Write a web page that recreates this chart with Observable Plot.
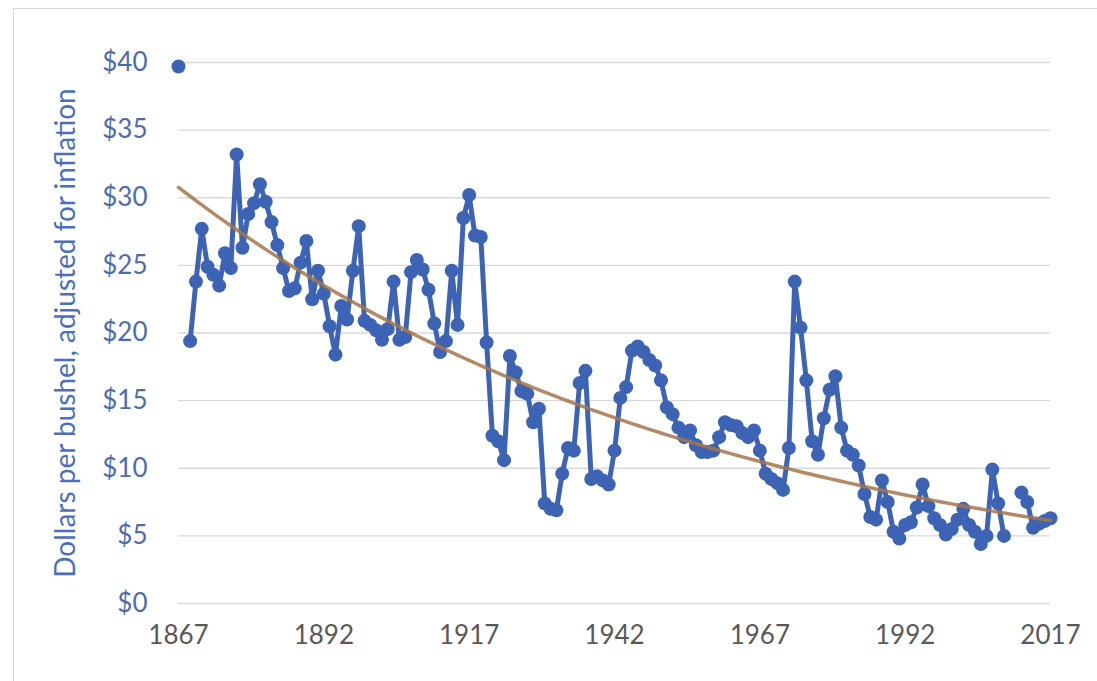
<!DOCTYPE html>
<html><head><meta charset="utf-8">
<script src="https://cdn.jsdelivr.net/npm/d3@7"></script>
<script src="https://cdn.jsdelivr.net/npm/@observablehq/plot@0.6"></script>
<style>
html,body{margin:0;padding:0;background:#fff;width:1097px;height:681px;overflow:hidden;}
#frame{position:absolute;left:13px;top:8px;width:1200px;height:800px;border-left:1.5px solid #d9d9d9;border-top:1.5px solid #d9d9d9;}
#chart{position:absolute;left:0;top:0;}
</style></head><body>
<div id="frame"></div>
<div id="chart"></div>
<script>
// Data: price per bushel (inflation adjusted), one value per year from 1867
const startYear = 1867;
const prices = [
  39.7, null, 19.4,
  23.8, 27.7, 24.9, 24.3, 23.5, 25.9, 24.8, 33.2, 26.3, 28.8,
  29.6, 31.0, 29.7, 28.2, 26.5, 24.8, 23.1, 23.3, 25.2, 26.8,
  22.5, 24.6, 22.9, 20.5, 18.4, 22.0, 21.0, 24.6, 27.9, 20.9,
  20.6, 20.2, 19.5, 20.3, 23.8, 19.5, 19.7, 24.5, 25.4, 24.7,
  23.2, 20.7, 18.6, 19.4, 24.6, 20.6, 28.5, 30.2, 27.2, 27.1,
  19.3, 12.4, 12.0, 10.6, 18.3, 17.1, 15.7, 15.5, 13.4, 14.4,
  7.4, 7.0, 6.9, 9.6, 11.5, 11.3, 16.3, 17.2, 9.2, 9.4,
  9.1, 8.8, 11.3, 15.2, 16.0, 18.7, 19.0, 18.6, 18.0, 17.6,
  16.5, 14.5, 14.0, 13.0, 12.3, 12.8, 11.7, 11.2, 11.2, 11.3,
  12.3, 13.4, 13.2, 13.1, 12.6, 12.3, 12.8, 11.3, 9.6, 9.2,
  8.9, 8.4, 11.5, 23.8, 20.4, 16.5, 12.0, 11.0, 13.7, 15.8,
  16.8, 13.0, 11.3, 11.0, 10.2, 8.1, 6.4, 6.2, 9.1, 7.5,
  5.3, 4.8, 5.8, 6.0, 7.1, 8.8, 7.2, 6.3, 5.8, 5.1,
  5.5, 6.2, 7.0, 5.8, 5.3, 4.4, 5.0, 9.9, 7.4, 5.0,
  null, null, 8.2, 7.5, 5.6, 5.9, 6.1, 6.3
];
const xTicks = [1867, 1892, 1917, 1942, 1967, 1992, 2017];
const yTicks = [0, 5, 10, 15, 20, 25, 30, 35, 40];
const yTitle = "Dollars per bushel, adjusted for inflation";

const rows = prices.map((v, i) => ({year: startYear + i, price: v}));

// Exponential trendline (least squares on log of price), as the spreadsheet computes it
const valid = rows.filter(d => d.price != null);
const mx = d3.mean(valid, d => d.year);
const my = d3.mean(valid, d => Math.log(d.price));
const b = d3.sum(valid, d => (d.year - mx) * (Math.log(d.price) - my)) / d3.sum(valid, d => (d.year - mx) ** 2);
const a = my - b * mx;
const trend = rows.map(d => ({year: d.year, price: Math.exp(a + b * d.year)}));

const blue = "#3d63b5";
const chart = Plot.plot({
  width: 1097, height: 681,
  marginLeft: 178, marginRight: 47, marginTop: 62, marginBottom: 78,
  style: {fontFamily: "Lato, 'Open Sans', sans-serif", fontSize: "24px", background: "transparent", overflow: "visible"},
  x: {domain: [1867, 2017]},
  y: {domain: [0, 40]},
  marks: [
    Plot.gridY(yTicks, {stroke: "#d9d9d9", strokeOpacity: 1, strokeWidth: 1.4}),
    Plot.line(rows, {x: "year", y: "price", stroke: blue, strokeWidth: 5, strokeLinejoin: "round"}),
    Plot.dot(rows, {x: "year", y: "price", r: 7, fill: blue, stroke: "none"}),
    Plot.line(trend, {x: "year", y: "price", stroke: "#a5764a", strokeWidth: 3.5, strokeOpacity: 0.85}),
    Plot.axisX(xTicks, {tickSize: 0, tickPadding: 22, tickFormat: d => String(d), label: null, fill: "#595959", fontSize: 26}),
    Plot.axisY(yTicks, {tickSize: 0, tickPadding: 31, tickFormat: d => "$" + d, label: null, fill: "#4d6cb0", fontSize: 26}),
    Plot.text([yTitle], {frameAnchor: "left", dx: -112, rotate: -90, text: d => d, fill: "#4a70bd", fontSize: 28, textAnchor: "middle"})
  ]
});
document.getElementById("chart").appendChild(chart);
</script>
</body></html>
